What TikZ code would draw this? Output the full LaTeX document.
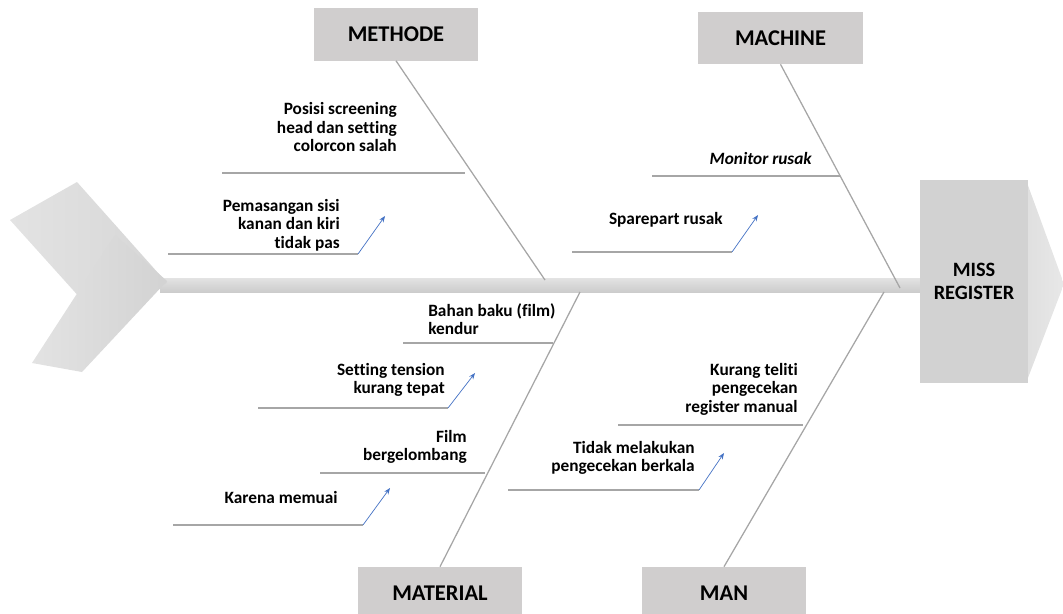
\documentclass[tikz,border=0pt]{standalone}
\usepackage{fontspec}
\setmainfont{Carlito}[Ligatures=NoCommon]
\usepackage{xcolor}
\usetikzlibrary{positioning, arrows.meta}
\definecolor{boxgray}{HTML}{D0CECE}
\definecolor{bonegray}{HTML}{A6A6A6}
\definecolor{arrowblue}{HTML}{4472C4}

\begin{document}
\begin{tikzpicture}[x=0.025cm, y=-0.025cm,
            category/.style={rectangle, fill=boxgray, minimum width=4.1cm, minimum height=1.3cm, inner sep=0pt, font=\fontsize{16}{19}\selectfont\bfseries},
            cause/.style={inner sep=0pt, align=right, font=\fontsize{12.3}{13.2}\selectfont\bfseries},
            bone/.style={draw=bonegray, line width=0.9pt},
            subbone/.style={draw=bonegray, line width=0.75pt},
            pointer/.style={draw=arrowblue, line width=0.5pt, -{Stealth[length=4.5pt, width=3.5pt]}}]
    \useasboundingbox (0,0) rectangle (1063,613);

    % Spine and tail
    \shade[top color=gray!22, bottom color=gray!40] (160,278) rectangle (922,292);
    \shade[left color=gray!22, right color=gray!32] (10,220) -- (77,182) -- (167,283) -- (100,320) -- cycle;
    \shade[left color=gray!22, right color=gray!35] (115,235) -- (167,281) -- (82,372) -- (32,363) -- cycle;

    % Head
    \shade[left color=gray!25, right color=gray!18] (1026,180) -- (1064,284) -- (1026,383) -- cycle;
    \node[rectangle, fill=gray!35, minimum width=2.7cm, minimum height=5.075cm, inner sep=0pt,
          align=center, font=\fontsize{14.5}{16}\selectfont\bfseries] (effect) at (974,281.5) {MISS\\REGISTER};

    % Nodes
    \node[category] (methode) at (396,34.5) {METHODE};
    \node[category] (machine) at (780.5,38) {MACHINE};
    \node[category] (material) at (440,593) {MATERIAL};
    \node[category] (man) at (724,593) {MAN};

    \node[cause, anchor=east] (posisi) at (397,127) {Posisi screening\\head dan setting\\colorcon salah};
    \node[cause, anchor=east] (pemasangan) at (340,225) {Pemasangan sisi\\kanan dan kiri\\tidak pas};
    \node[cause, anchor=east, font=\fontsize{12.3}{13.2}\selectfont\bfseries\itshape] (monitor) at (812,158) {Monitor rusak};
    \node[cause, anchor=east] (sparepart) at (723,220) {Sparepart rusak};
    \node[cause, anchor=west, align=left] (bahan) at (428,319) {Bahan baku (film)\\kendur};
    \node[cause, anchor=east] (tension) at (445,380) {Setting tension\\kurang tepat};
    \node[cause, anchor=east] (film) at (467,447) {Film\\bergelombang};
    \node[cause, anchor=east] (memuai) at (338,497) {Karena memuai};
    \node[cause, anchor=east] (teliti) at (798,389) {Kurang teliti\\pengecekan\\register manual};
    \node[cause, anchor=east] (berkala) at (695,458) {Tidak melakukan\\pengecekan berkala};

    % Coordinates
    \coordinate (methode-end) at (545,280);
    \coordinate (machine-end) at (900,288);
    \coordinate (material-end) at (580,292);
    \coordinate (man-end) at (884,292);
    \coordinate (posisi-a) at (222,173);
    \coordinate (posisi-b) at (465,173);
    \coordinate (pemasangan-a) at (168,254);
    \coordinate (pemasangan-b) at (358,254);
    \coordinate (pemasangan-c) at (385,216);
    \coordinate (monitor-a) at (652,176);
    \coordinate (monitor-b) at (840,176);
    \coordinate (sparepart-a) at (572,252);
    \coordinate (sparepart-b) at (732,252);
    \coordinate (sparepart-c) at (758,215);
    \coordinate (bahan-a) at (403,343);
    \coordinate (bahan-b) at (553,343);
    \coordinate (tension-a) at (258,408);
    \coordinate (tension-b) at (448,408);
    \coordinate (tension-c) at (475,373);
    \coordinate (film-a) at (320,473);
    \coordinate (film-b) at (485,473);
    \coordinate (memuai-a) at (173,525);
    \coordinate (memuai-b) at (363,525);
    \coordinate (memuai-c) at (390,488);
    \coordinate (teliti-a) at (618,425);
    \coordinate (teliti-b) at (803,425);
    \coordinate (berkala-a) at (508,490);
    \coordinate (berkala-b) at (699,490);
    \coordinate (berkala-c) at (724,453);

    % Edges
    \draw[bone] (methode.south) -- (methode-end);
    \draw[bone] (machine.south) -- (machine-end);
    \draw[bone] (material.north) -- (material-end);
    \draw[bone] (man.north) -- (man-end);

    \draw[subbone] (posisi-a) -- (posisi-b);
    \draw[subbone] (pemasangan-a) -- (pemasangan-b);
    \draw[pointer] (pemasangan-b) -- (pemasangan-c);
    \draw[subbone] (monitor-a) -- (monitor-b);
    \draw[subbone] (sparepart-a) -- (sparepart-b);
    \draw[pointer] (sparepart-b) -- (sparepart-c);
    \draw[subbone] (bahan-a) -- (bahan-b);
    \draw[subbone] (tension-a) -- (tension-b);
    \draw[pointer] (tension-b) -- (tension-c);
    \draw[subbone] (film-a) -- (film-b);
    \draw[subbone] (memuai-a) -- (memuai-b);
    \draw[pointer] (memuai-b) -- (memuai-c);
    \draw[subbone] (teliti-a) -- (teliti-b);
    \draw[subbone] (berkala-a) -- (berkala-b);
    \draw[pointer] (berkala-b) -- (berkala-c);
\end{tikzpicture}
\end{document}
